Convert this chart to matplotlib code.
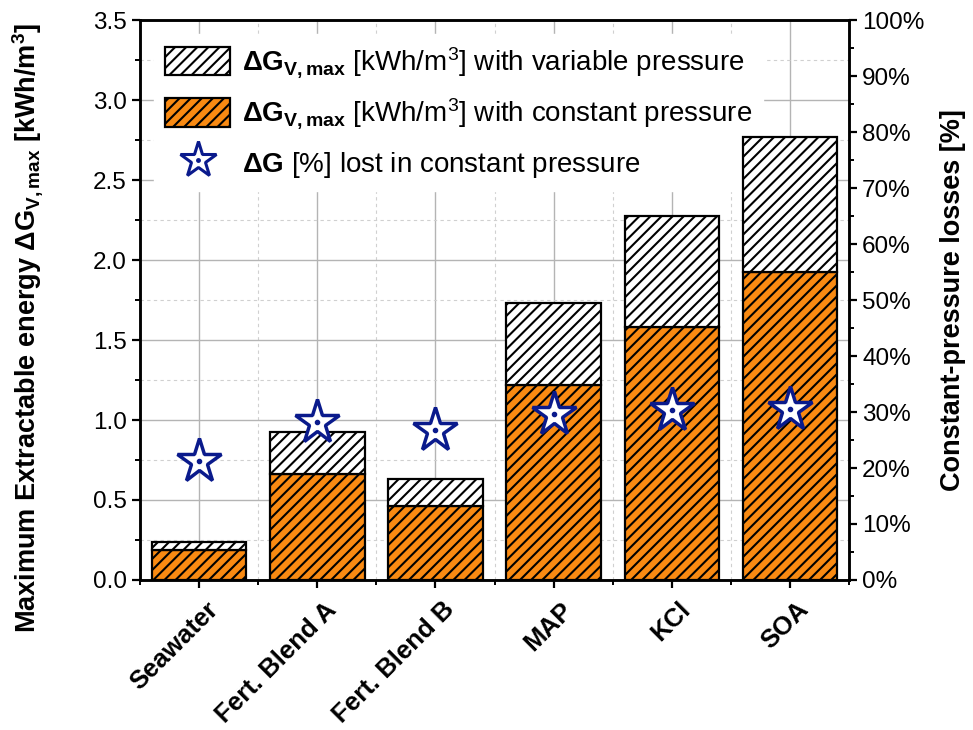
import matplotlib
matplotlib.use("Agg")
import matplotlib.pyplot as plt
import matplotlib.transforms as mtransforms
from matplotlib.lines import Line2D
from matplotlib.patches import Patch
import numpy as np

plt.rcParams['font.family'] = ['Liberation Sans', 'DejaVu Sans']
plt.rcParams['mathtext.fontset'] = 'custom'
plt.rcParams['mathtext.rm'] = 'Liberation Sans'
plt.rcParams['mathtext.bf'] = 'Liberation Sans:bold'
plt.rcParams['mathtext.it'] = 'Liberation Sans:italic'
plt.rcParams['hatch.linewidth'] = 1.5

# data
categories = ["Seawater", "Fert. Blend A", "Fert. Blend B", "MAP", "KCl", "SOA"]
dg_variable = [0.24, 0.925, 0.63, 1.73, 2.275, 2.77]   # kWh/m3, variable pressure
dg_constant = [0.19, 0.66, 0.46, 1.22, 1.58, 1.925]    # kWh/m3, constant pressure
loss_pct = [21.2, 28.3, 26.7, 29.7, 30.3, 30.5]        # % lost in constant pressure

orange = '#F98A12'
navy = '#0A1A8C'

fig = plt.figure(figsize=(9.73, 7.3), dpi=100)
ax = fig.add_axes([0.144, 0.2055, 0.7286, 0.767])
ax2 = ax.twinx()

x = np.arange(len(categories))
extra = np.array(dg_variable) - np.array(dg_constant)

ax.bar(x, dg_constant, width=0.8, color=orange, edgecolor='black',
       linewidth=1.6, hatch='///', zorder=2)
ax.bar(x, extra, bottom=dg_constant, width=0.8, color='white',
       edgecolor='black', linewidth=1.6, hatch='///', zorder=2)

ax2.plot(x, loss_pct, linestyle='none', marker='*', ms=33, mfc='white',
         mec=navy, mew=2.5, zorder=3)
ax2.plot(x, loss_pct, linestyle='none', marker='o', ms=3, color=navy, zorder=4)

ax.set_xlim(-0.5, 5.5)
ax.set_ylim(0, 3.5)
ax2.set_ylim(0, 100)

ax.set_yticks(np.arange(0, 3.51, 0.5))
ax.set_yticks(np.arange(0.25, 3.5, 0.5), minor=True)
ax.set_yticklabels([f"{v:.1f}" for v in np.arange(0, 3.51, 0.5)])
ax.set_xticks(x)
ax.set_xticks(np.arange(-0.5, 5.6, 1), minor=True)
ax.set_xticklabels([])
# rotated category labels, shifted a little to the right like the original
offset = mtransforms.ScaledTranslation(0.15, -0.26, fig.dpi_scale_trans)
for xi, cat in zip(x, categories):
    ax.text(xi, 0, cat, transform=ax.get_xaxis_transform() + offset,
            rotation=45, ha='right', va='center', rotation_mode='anchor',
            fontweight='bold', fontsize=18.5)

ax2.set_yticks(np.arange(0, 101, 10))
ax2.set_yticks(np.arange(5, 100, 10), minor=True)
ax2.set_yticklabels([f"{v}%" for v in range(0, 101, 10)])

for a in (ax, ax2):
    a.tick_params(which='major', direction='out', length=6, width=1.6, labelsize=17.5)
    a.tick_params(which='minor', direction='out', length=3.5, width=1.4)
    for s in a.spines.values():
        s.set_linewidth(1.8)

ax.grid(True, which='major', color='#b4b4b4', linewidth=1.0, linestyle='-', zorder=0)
ax.grid(True, which='minor', color='#d0d0d0', linewidth=0.8, linestyle=(0, (3, 3)), zorder=0)
ax.set_axisbelow(True)

ax.set_ylabel(r"Maximum Extractable energy $\mathbf{\Delta G_{V,max}}$ [kWh/m$\mathbf{^3}$]",
              fontsize=19.5, fontweight='bold')
ax.yaxis.set_label_coords(-0.134, 0.45)
ax2.set_ylabel("Constant-pressure losses [%]", fontsize=19.5, fontweight='bold')
ax2.yaxis.set_label_coords(1.128, 0.5)

h_var = Patch(facecolor='white', edgecolor='black', linewidth=1.6, hatch='///')
h_con = Patch(facecolor=orange, edgecolor='black', linewidth=1.6, hatch='///')
h_star = (Line2D([], [], linestyle='none', marker='*', ms=27, mfc='white', mec=navy, mew=2.2),
          Line2D([], [], linestyle='none', marker='o', ms=2.5, color=navy))
leg = ax.legend([h_var, h_con, h_star],
                [r"$\mathbf{\Delta G_{V,max}}$ [kWh/m$^3$] with variable pressure",
                 r"$\mathbf{\Delta G_{V,max}}$ [kWh/m$^3$] with constant pressure",
                 r"$\mathbf{\Delta G}$ [%] lost in constant pressure"],
                loc='upper left', fontsize=20, frameon=True, fancybox=False,
                edgecolor='white', framealpha=1, handlelength=2.35, handleheight=1.2,
                handletextpad=0.4, labelspacing=0.6, borderaxespad=0.5,
                borderpad=0.4)
leg.set_zorder(1)

fig.savefig("out.png", dpi=100)
